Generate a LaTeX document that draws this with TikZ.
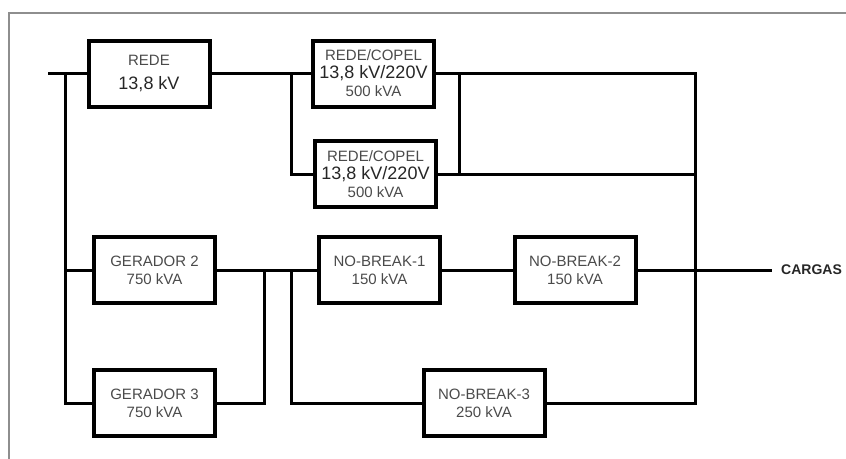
\documentclass[tikz,border=0pt]{standalone}
\usepackage{fontspec}
\setmainfont{Liberation Sans}
\usetikzlibrary{positioning,calc}
\definecolor{framegray}{HTML}{8E8E8E}
\definecolor{txtgray}{HTML}{4A4A4A}
\newcommand{\bigv}[1]{{\fontsize{18}{18}\selectfont\color{black!85}#1}}
\tikzset{
    every node/.style={font=\fontsize{15}{18}\selectfont},
    blk/.style={draw,line width=4pt,minimum width=121pt,minimum height=66pt,inner sep=0pt,align=center,text=txtgray},
    wire/.style={line width=3pt,line cap=rect},
    framed/.style={draw=framegray,line width=1.6pt},
    loadtxt/.style={anchor=west,inner sep=0pt,font=\fontsize{14}{16}\selectfont\bfseries,text=black!85}
}
\begin{document}
\begin{tikzpicture}[x=1pt,y=-1pt]
\useasboundingbox (0,0) rectangle (846,458);
\draw[framed] (9,470) -- (9,13) -- (860,13);

\node[blk] (rede) at (149,73.5) {REDE\\[6pt]\bigv{13,8 kV}};
\node[blk] (copA) at (373.5,73.5) {REDE/COPEL\\\bigv{13,8 kV/220V}\\500 kVA};
\node[blk] (copB) at (375.5,174) {REDE/COPEL\\\bigv{13,8 kV/220V}\\500 kVA};
\node[blk] (ger2) at (154.5,270) {GERADOR 2\\750 kVA};
\node[blk] (ger3) at (154.5,403) {GERADOR 3\\750 kVA};
\node[blk] (nb1) at (379.5,270) {NO-BREAK-1\\150 kVA};
\node[blk] (nb2) at (575,270) {NO-BREAK-2\\150 kVA};
\node[blk] (nb3) at (484,403) {NO-BREAK-3\\250 kVA};

\coordinate (feed) at (49,73.5);
\coordinate (busL) at (65,73.5);
\coordinate (jRede) at (291,73.5);
\coordinate (jCop) at (459,73.5);
\coordinate (busR) at (695,73.5);
\coordinate (jGer) at (264,270);
\coordinate (jNb) at (291,270);
\coordinate (load) at (770,270);

\draw[wire] (feed) -- (rede.west);
\draw[wire] (busL) |- (ger3.west);
\draw[wire] (busL |- ger2.west) -- (ger2.west);
\draw[wire] (rede.east) -- (copA.west);
\draw[wire] (jRede) |- (copB.west);
\draw[wire] (copA.east) -- (busR) -- (busR |- nb3.east) -- (nb3.east);
\draw[wire] (copB.east) -- (copB.east -| busR);
\draw[wire] (jCop) -- (jCop |- copB.east);
\draw[wire] (ger2.east) -- (nb1.west);
\draw[wire] (jGer) |- (ger3.east);
\draw[wire] (jNb) |- (nb3.west);
\draw[wire] (nb1.east) -- (nb2.west);
\draw[wire] (nb2.east) -- (load);
\node[loadtxt] (cargas) at ([xshift=11pt]load) {CARGAS};
\end{tikzpicture}
\end{document}
